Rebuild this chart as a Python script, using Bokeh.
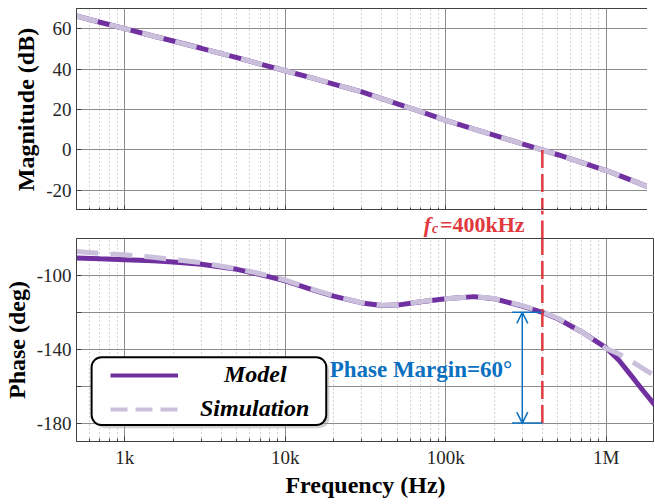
from bokeh.plotting import figure
from bokeh.layouts import column
from bokeh.models import (FixedTicker, Range1d, Label, Arrow, OpenHead, BoxAnnotation,
                          Legend, LegendItem)
from bokeh.core.properties import value
from bokeh.embed import file_html
from bokeh.resources import INLINE

# ---------------- data ----------------
freq = [500, 700, 1e3, 1.5e3, 2e3, 3e3, 5e3, 7e3, 1e4, 1.5e4, 2e4, 3e4, 4e4, 5e4, 7e4,
        1e5, 1.5e5, 2e5, 3e5, 4e5, 5e5, 7e5, 1e6, 1.2e6, 1.5e6, 1.7e6, 2e6]
mag_model = [66.3, 63.2, 60.0, 56.4, 53.9, 50.3, 45.7, 42.5, 39.2, 35.4, 32.6, 28.7, 25.4, 22.8, 18.9,
             14.6, 10.3, 7.3, 3.0, 0.0, -2.4, -6.2, -10.2, -12.6, -15.6, -17.3, -19.5]
mag_sim = [66.3, 63.2, 60.0, 56.4, 53.9, 50.3, 45.7, 42.5, 39.2, 35.4, 32.6, 28.7, 25.4, 22.8, 18.9,
           14.6, 10.3, 7.3, 3.0, 0.0, -2.4, -6.2, -10.2, -12.6, -15.6, -17.3, -19.5]
ph_model = [-90.5, -91.0, -91.5, -92.1, -92.7, -94.0, -96.7, -99.6, -103.0, -108.0, -111.2, -114.9,
            -116.3, -116.1, -114.3, -112.7, -111.5, -112.6, -116.6, -120.0, -123.5, -130.5, -139.3,
            -146.0, -156.5, -162.5, -170.0]
ph_sim = [-87.0, -88.0, -88.8, -90.2, -91.3, -93.1, -96.4, -99.1, -102.5, -107.7, -111.0, -114.8,
          -116.2, -116.0, -114.2, -112.7, -111.5, -112.5, -116.4, -119.8, -123.2, -130.5, -139.6,
          -142.5, -147.5, -150.5, -154.3]

x_major = [1e3, 1e4, 1e5, 1e6]
x_labels = {1e3: "1k", 1e4: "10k", 1e5: "100k", 1e6: "1M"}
mag_ticks = [-20, 0, 20, 40, 60]
ph_ticks = [-180, -160, -140, -120, -100]
ph_labels = {-180: "-180", -160: "", -140: "-140", -120: "", -100: "-100"}

fc = 400e3
pm_top = -120
pm_bottom = -180

# ---------------- styling ----------------
FONT = "Liberation Serif"
PURPLE = "#7030a0"
LAV = "#cbc0dc"
RED = "#e0393e"
BLUE = "#0a70c0"

minor = []
for dec in [1e2, 1e3, 1e4, 1e5, 1e6]:
    for k in range(2, 10):
        v = k * dec
        if 500 <= v <= 2e6:
            minor.append(v)

LEFT = 69
FW = 578


def style(p, yticks, ylabels, ytitle, show_x):
    p.outline_line_color = "#404040"
    p.outline_line_width = 1
    p.xaxis.ticker = FixedTicker(ticks=x_major, minor_ticks=minor)
    p.yaxis.ticker = FixedTicker(ticks=yticks)
    p.yaxis.major_label_overrides = ylabels
    for ax in (p.xaxis[0], p.yaxis[0]):
        ax.axis_line_color = "#404040"
        ax.major_tick_in = 5
        ax.major_tick_out = 0
        ax.minor_tick_in = 3
        ax.minor_tick_out = 0
        ax.major_tick_line_color = "#404040"
        ax.minor_tick_line_color = "#404040"
        ax.major_label_text_font = FONT
        ax.major_label_text_font_size = "19px"
        ax.major_label_text_color = "#262626"
        ax.axis_label_text_font = FONT
        ax.axis_label_text_font_style = "bold"
        ax.axis_label_text_font_size = "24px"
        ax.axis_label_text_color = "black"
    p.yaxis.minor_tick_line_color = None
    p.yaxis.axis_label = ytitle
    p.yaxis.major_label_standoff = 5
    p.yaxis.axis_label_standoff = 4
    if show_x:
        p.xaxis.major_label_overrides = x_labels
        p.xaxis.major_label_standoff = 5
        p.xaxis.axis_label = "Frequency (Hz)"
        p.xaxis.axis_label_standoff = 1
    else:
        p.xaxis.major_label_text_font_size = "1px"
        p.xaxis.major_label_text_alpha = 0
        p.xaxis.major_label_standoff = 0
    p.xgrid.grid_line_color = "#8c8c8c"
    p.xgrid.grid_line_width = 1
    p.xgrid.minor_grid_line_color = "#a8a8a8"
    p.xgrid.minor_grid_line_dash = "1 3"
    p.ygrid.grid_line_color = "#8c8c8c"
    p.ygrid.grid_line_width = 1
    p.background_fill_color = "white"
    p.border_fill_color = "white"


x_range = Range1d(500, 2e6)

# ---------------- magnitude ----------------
p1 = figure(x_axis_type="log", x_range=x_range, y_range=Range1d(-30, 70),
            frame_width=FW, frame_height=202, min_border_left=LEFT, min_border_right=0,
            min_border_top=8, min_border_bottom=0,
            output_backend="svg", toolbar_location=None)
style(p1, mag_ticks, {v: str(v) for v in mag_ticks}, "Magnitude (dB)", False)
p1.line(freq, mag_model, line_color=PURPLE, line_width=5)
p1.line(freq, mag_sim, line_color=LAV, line_width=5, line_dash="22 12")
p1.segment(x0=[fc], y0=[0], x1=[fc], y1=[-30], line_color=RED, line_width=2.5, line_dash="18 6")

# ---------------- gap strip with the crossover label ----------------
p3 = figure(x_axis_type="log", x_range=x_range, y_range=Range1d(0, 1),
            frame_width=FW, frame_height=28, min_border_left=LEFT, min_border_right=0,
            min_border_top=0, min_border_bottom=0,
            output_backend="svg", toolbar_location=None)
p3.axis.visible = False
p3.grid.visible = False
p3.outline_line_color = None
p3.background_fill_color = "white"
p3.border_fill_color = "white"
p3.segment(x0=[fc], y0=[0], x1=[fc], y1=[1], line_color=RED, line_width=2.5, line_dash="18 6")
p3.text(x=[7.3e4], y=[0.5], text=["f"], text_font=value(FONT), text_font_style="bold italic",
        text_font_size="22px", text_color=RED, text_baseline="middle")
p3.text(x=[8.2e4], y=[0.36], text=["c"], text_font=value(FONT), text_font_style="bold italic",
        text_font_size="14px", text_color=RED, text_baseline="middle")
p3.text(x=[9.2e4], y=[0.5], text=["=400kHz"], text_font=value(FONT), text_font_style="bold",
        text_font_size="22px", text_color=RED, text_baseline="middle")

# ---------------- phase ----------------
p2 = figure(x_axis_type="log", x_range=x_range, y_range=Range1d(-190, -80),
            frame_width=FW, frame_height=203, min_border_left=LEFT, min_border_right=0,
            min_border_top=0, min_border_bottom=0,
            output_backend="svg", toolbar_location=None)
style(p2, ph_ticks, ph_labels, "Phase (deg)", True)

r_model = p2.line(freq, ph_model, line_color=PURPLE, line_width=5)
r_sim = p2.line(freq, ph_sim, line_color=LAV, line_width=5, line_dash="22 12")

p2.segment(x0=[fc], y0=[pm_bottom], x1=[fc], y1=[-80], line_color=RED, line_width=2.5,
           line_dash="18 6")

# phase margin annotation
p2.segment(x0=[2.59e5, 2.59e5], y0=[pm_top, pm_bottom], x1=[fc, fc], y1=[pm_top, pm_bottom],
           line_color=BLUE, line_width=1.5)
p2.add_layout(Arrow(start=OpenHead(size=11, line_color=BLUE, line_width=1.5),
                    end=OpenHead(size=11, line_color=BLUE, line_width=1.5),
                    x_start=3.0e5, y_start=pm_top, x_end=3.0e5, y_end=pm_bottom,
                    line_color=BLUE, line_width=1.5))
p2.add_layout(Label(x=1.89e4, y=-150.8, text="Phase Margin=60°", text_font=FONT,
                    text_font_style="bold", text_font_size="23px", text_color=BLUE,
                    text_baseline="alphabetic"))

# legend box with shadow
p2.add_layout(BoxAnnotation(left=650, right=18.8e3, top=-146.0, bottom=-182.8,
                            fill_color="#9a9a9a", fill_alpha=0.45, line_alpha=0,
                            border_radius=10))
p2.add_layout(BoxAnnotation(left=621, right=18.0e3, top=-144.3, bottom=-181.1,
                            fill_color="white", fill_alpha=1, line_color="black",
                            line_alpha=1, line_width=2, border_radius=10))
lg_model = p2.line([1e3], [-300], line_color=PURPLE, line_width=4)
lg_sim = p2.line([1e3], [-300], line_color=LAV, line_width=4, line_dash="17 8")
legend = Legend(items=[LegendItem(label="\u00a0\u00a0\u00a0\u00a0Model", renderers=[lg_model]),
                       LegendItem(label="Simulation", renderers=[lg_sim])],
                location=(34, 19), padding=0, margin=0, spacing=7,
                glyph_width=68, glyph_height=22, label_height=22, label_standoff=22,
                label_text_font=FONT, label_text_font_style="bold italic",
                label_text_font_size="24px", label_text_color="black",
                border_line_alpha=0, background_fill_alpha=0)
p2.add_layout(legend)

layout = column(p1, p3, p2, spacing=0)
open("out.html", "w").write(file_html(layout, INLINE))
